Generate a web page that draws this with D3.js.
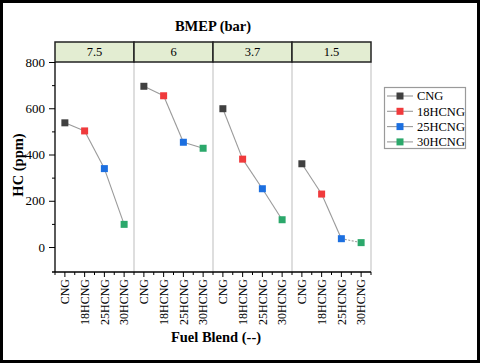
<!DOCTYPE html>
<html>
<head>
<meta charset="utf-8">
<script src="https://cdn.jsdelivr.net/npm/d3@7"></script>
<style>
  body { margin: 0; background: #fff; }
  svg { display: block; font-family: "Liberation Serif", "Times New Roman", serif; }
</style>
</head>
<body>
<svg id="chart" width="480" height="364"></svg>
<script>
"use strict";

// data
var bmep = [ "7.5", "6", "3.7", "1.5" ];
var blends = [ "CNG", "18HCNG", "25HCNG", "30HCNG" ];
var hc = [
  [ 537, 502, 339, 98 ],
  [ 695, 654, 453, 427 ],
  [ 598, 380, 252, 118 ],
  [ 360, 229, 36, 19 ]
];
var colors = [ "#404040", "#f03a3c", "#1c6fe0", "#2ba86b" ];
var yMajor = [ 0, 200, 400, 600, 800 ];
var yMinor = [ 100, 300, 500, 700 ];

var svg = d3.select("#chart");
var pLeft = 55, pRight = 371, pTop = 62, pBottom = 272;

var xPanel = d3.scaleBand().domain( bmep ).range( [ pLeft, pRight ] );
var xCat = d3.scaleBand().domain( blends ).range( [ 0, xPanel.bandwidth() ] );
var y = d3.scaleLinear().domain( [ -108, 800 ] ).range( [ pBottom, pTop ] );

function px( p, b ) { return xPanel(p) + xCat(b) + xCat.bandwidth() / 2 }

// outer frame
svg.append("rect")
  .attr( "x", 1.5 ).attr( "y", 1.5 ).attr( "width", 477 ).attr( "height", 360 )
  .attr( "fill", "none" ).attr( "stroke", "#000" ).attr( "stroke-width", 3 );

// panel separators and right edge
svg.selectAll("line.sep")
  .data( bmep.slice(1).concat( [ null ] ) )
  .enter().append("line")
  .attr( "class", "sep" )
  .attr( "x1", function(d) { return d ? xPanel(d) : pRight } )
  .attr( "x2", function(d) { return d ? xPanel(d) : pRight } )
  .attr( "y1", pTop ).attr( "y2", pBottom )
  .style( "stroke", "#c8c8c8" ).style( "stroke-width", 1.2 );

// header strip
var strip = svg.append("g");
strip.selectAll("rect")
  .data( bmep )
  .enter().append("rect")
  .attr( "x", function(d) { return xPanel(d) } )
  .attr( "y", 42 )
  .attr( "width", xPanel.bandwidth() )
  .attr( "height", pTop - 42 )
  .attr( "fill", "#e3edd2" ).attr( "stroke", "#222" ).attr( "stroke-width", 1.5 );
strip.selectAll("text")
  .data( bmep )
  .enter().append("text")
  .attr( "x", function(d) { return xPanel(d) + xPanel.bandwidth() / 2 } )
  .attr( "y", 56 )
  .attr( "text-anchor", "middle" )
  .style( "font-size", "12.5px" )
  .text( function(d) { return d } );

svg.append("text")
  .attr( "x", 213 ).attr( "y", 31 )
  .attr( "text-anchor", "middle" )
  .style( "font-size", "14.5px" ).style( "font-weight", "bold" )
  .text( "BMEP (bar)" );

// y axis
var yAxis = svg.append("g")
  .attr( "transform", "translate(" + pLeft + ",0)" )
  .call( d3.axisLeft( y ).tickValues( yMajor ).tickSize( 6 ).tickSizeOuter( 0 ).tickPadding( 4 ) );
yAxis.select(".domain").remove();
yAxis.selectAll("text").style( "font-size", "13px" ).style( "font-family", "Liberation Serif" );
svg.append("g")
  .attr( "transform", "translate(" + pLeft + ",0)" )
  .call( d3.axisLeft( y ).tickValues( yMinor ).tickSize( 3 ).tickFormat( "" ) )
  .select(".domain").remove();
svg.append("line")
  .attr( "x1", pLeft ).attr( "x2", pLeft ).attr( "y1", pTop ).attr( "y2", pBottom )
  .style( "stroke", "#000" ).style( "stroke-width", 1.3 );

// x axis
var cats = [];
bmep.forEach( function(p) { blends.forEach( function(b) { cats.push( { p: p, b: b } ) } ) } );
var bounds = d3.range( 0, 17 ).map( function(k) { return pLeft + k * xCat.bandwidth() } );

svg.append("line")
  .attr( "x1", pLeft - 3 ).attr( "x2", pRight ).attr( "y1", pBottom ).attr( "y2", pBottom )
  .style( "stroke", "#000" ).style( "stroke-width", 1.3 );
svg.selectAll("line.maj")
  .data( cats )
  .enter().append("line")
  .attr( "class", "maj" )
  .attr( "x1", function(d) { return px( d.p, d.b ) } )
  .attr( "x2", function(d) { return px( d.p, d.b ) } )
  .attr( "y1", pBottom ).attr( "y2", pBottom + 5 )
  .style( "stroke", "#000" );
svg.selectAll("line.mnr")
  .data( bounds )
  .enter().append("line")
  .attr( "class", "mnr" )
  .attr( "x1", function(d) { return d } )
  .attr( "x2", function(d) { return d } )
  .attr( "y1", pBottom ).attr( "y2", pBottom + 3 )
  .style( "stroke", "#000" );
svg.selectAll("text.xl")
  .data( cats )
  .enter().append("text")
  .attr( "class", "xl" )
  .attr( "transform", function(d) { return "translate(" + px( d.p, d.b ) + "," + ( pBottom + 7 ) + ") rotate(-90)" } )
  .attr( "text-anchor", "end" )
  .attr( "dy", "0.35em" )
  .style( "font-size", "12px" )
  .text( function(d) { return d.b } );

// axis titles
svg.append("text")
  .attr( "x", 216 ).attr( "y", 342 )
  .attr( "text-anchor", "middle" )
  .style( "font-size", "14.5px" ).style( "font-weight", "bold" )
  .text( "Fuel Blend (--)" );
svg.append("text")
  .attr( "transform", "translate(23,165) rotate(-90)" )
  .attr( "text-anchor", "middle" )
  .style( "font-size", "14.5px" ).style( "font-weight", "bold" )
  .text( "HC (ppm)" );

// lines and points
bmep.forEach( function( p, i ) {
  var segs = d3.pairs( blends.map( function( b, j ) { return { p: p, b: b, v: hc[i][j] } } ) );
  svg.selectAll( null )
    .data( segs )
    .enter().append("line")
    .attr( "x1", function(d) { return px( d[0].p, d[0].b ) } )
    .attr( "y1", function(d) { return y( d[0].v ) } )
    .attr( "x2", function(d) { return px( d[1].p, d[1].b ) } )
    .attr( "y2", function(d) { return y( d[1].v ) } )
    .style( "stroke", "#9a9a9a" ).style( "stroke-width", 1.1 )
    .style( "stroke-dasharray", function(d, k) { return ( i == 3 && k == 2 ) ? "2,1.5" : null } );
  svg.selectAll( null )
    .data( blends )
    .enter().append("rect")
    .attr( "x", function(b) { return px( p, b ) - 3.5 } )
    .attr( "y", function(b, j) { return y( hc[i][j] ) - 3.5 } )
    .attr( "width", 7 ).attr( "height", 7 )
    .attr( "fill", function(b, j) { return colors[j] } );
} );

// legend
var lg = svg.append("g");
lg.append("rect")
  .attr( "x", 384.5 ).attr( "y", 87.5 ).attr( "width", 81 ).attr( "height", 61 )
  .attr( "fill", "#fff" ).attr( "stroke", "#9a9a9a" ).attr( "stroke-width", 1.2 );
var item = lg.selectAll("g")
  .data( blends )
  .enter().append("g")
  .attr( "transform", function(d, j) { return "translate(0," + ( 96 + j * 15.3 ) + ")" } );
item.append("line")
  .attr( "x1", 387 ).attr( "x2", 413 )
  .style( "stroke", "#9a9a9a" ).style( "stroke-width", 1.1 );
item.append("rect")
  .attr( "x", 396.5 ).attr( "y", -3.5 ).attr( "width", 7 ).attr( "height", 7 )
  .attr( "fill", function(d, j) { return colors[j] } );
item.append("text")
  .attr( "x", 417 ).attr( "dy", "0.35em" )
  .style( "font-size", "12.5px" )
  .text( function(d) { return d } );
</script>
</body>
</html>
